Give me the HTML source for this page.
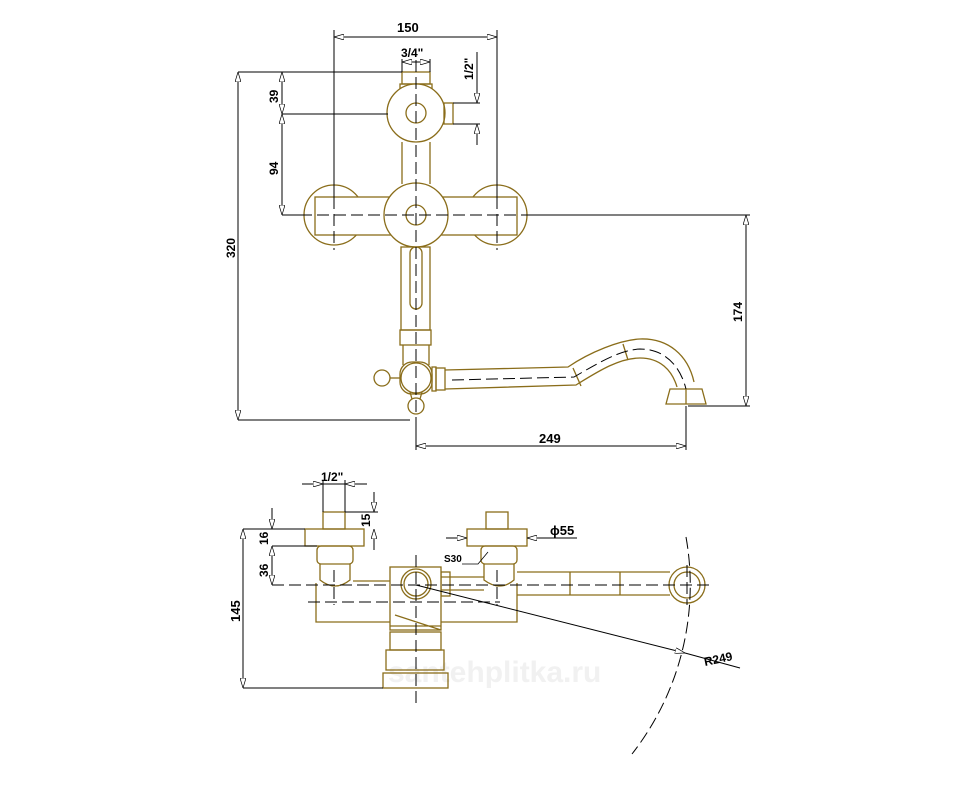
<!DOCTYPE html>
<html><head><meta charset="utf-8"><style>
html,body{margin:0;padding:0;background:#fff}
svg{display:block}
text{font-family:"Liberation Sans",sans-serif;font-weight:bold;fill:#000}
</style></head><body>
<svg width="960" height="800" viewBox="0 0 960 800" xmlns="http://www.w3.org/2000/svg">
<defs>
<marker id="a" viewBox="0 0 10 6" refX="10" refY="3" markerWidth="10" markerHeight="6" orient="auto-start-reverse" markerUnits="userSpaceOnUse"><path d="M0,0 L10,3 L0,6 Z" fill="#fff" stroke="#000" stroke-width="0.7"/></marker>
</defs>
<text x="388" y="682" font-size="30" font-weight="normal" style="fill:#f1f1f1">santehplitka.ru</text>
<g fill="none" stroke="#8a6d1a" stroke-width="1.3">
<!-- TOP VIEW -->
<rect x="402" y="72" width="28" height="12"/>
<rect x="400" y="84" width="32" height="8"/>
<circle cx="416" cy="113" r="29" fill="#fff"/>
<circle cx="416" cy="113" r="10"/>
<rect x="444" y="103" width="9" height="21"/>
<line x1="402" y1="142" x2="402" y2="184"/><line x1="430" y1="142" x2="430" y2="184"/>
<circle cx="334" cy="215" r="30"/>
<circle cx="497" cy="215" r="30"/>
<rect x="315" y="197" width="202" height="38" fill="#fff"/>
<circle cx="416" cy="215" r="32" fill="#fff"/>
<circle cx="416" cy="215" r="10"/>
<rect x="401" y="247" width="29" height="83"/>
<rect x="410" y="247" width="12" height="62" rx="6"/>
<rect x="400" y="330" width="31" height="15"/>
<path d="M403,345 L403,365 M429,345 L429,365"/>
<circle cx="416" cy="378" r="15"/>
<rect x="400" y="362" width="32" height="32" rx="12"/>
<circle cx="382" cy="378" r="8"/>
<line x1="390" y1="378" x2="400" y2="378"/>
<path d="M410,392 L412,399 M422,392 L420,399"/>
<circle cx="416" cy="406" r="8"/>
<rect x="432" y="367" width="4" height="24"/><rect x="436" y="368" width="9" height="22"/>
<path d="M445,370 L568,367 C590,352 620,340 640,339 C668,338 688,355 694,382"/>
<path d="M445,389 L576,385 C600,370 620,358 640,358 C660,358 672,370 677,387"/>
<path d="M573,368 L581,386 M623,344 L628,360"/>
<path d="M670,389 L702,389 L706,404 L666,404 Z"/><line x1="686" y1="389" x2="686" y2="404"/>
<!-- BOTTOM VIEW -->
<rect x="323" y="512" width="22" height="17"/>
<rect x="305" y="529" width="59" height="17"/>
<rect x="317" y="546" width="36" height="18" rx="4"/>
<path d="M320,564 L320,580 Q335,592 350,580 L350,564"/>
<rect x="486" y="512" width="22" height="17"/>
<rect x="467" y="529" width="60" height="17"/>
<rect x="481" y="546" width="36" height="18" rx="4"/>
<path d="M484,564 L484,580 Q500,592 514,580 L514,564"/>
<path d="M316,583 L316,622 L517,622 L517,583"/>
<path d="M353,581 L390,581 M441,577 L484,577 M441,590 L484,590"/>
<rect x="441" y="572" width="9" height="24"/>
<rect x="390" y="567" width="51" height="63" fill="#fff"/>
<circle cx="416" cy="584" r="15"/><circle cx="416" cy="584" r="12"/>
<path d="M390,626 L441,626 M395,615 L441,630"/>
<rect x="390" y="632" width="51" height="18"/>
<rect x="386" y="650" width="58" height="20"/>
<rect x="383" y="673" width="65" height="15"/>
<path d="M517,572 L670,572 M517,595 L670,595 M570,572 L570,595 M620,572 L620,595"/>
<circle cx="687" cy="585" r="18"/><circle cx="687" cy="585" r="13"/>
</g>
<g fill="none" stroke="#000" stroke-width="1">
<g stroke-dasharray="12 5">
<line x1="416" y1="60" x2="416" y2="440"/>
<line x1="300" y1="215" x2="545" y2="215"/>
<line x1="334" y1="180" x2="334" y2="250"/><line x1="497" y1="180" x2="497" y2="250"/>
<path d="M452,380 L574,377 C600,362 620,350 640,349 C664,349 680,365 686,389"/>
<line x1="416" y1="555" x2="416" y2="705"/>
<line x1="272" y1="585" x2="710" y2="585"/>
<line x1="308" y1="602" x2="500" y2="602"/>
<line x1="334" y1="570" x2="334" y2="605"/><line x1="497" y1="570" x2="497" y2="605"/>
<line x1="687" y1="565" x2="687" y2="605"/>
<path d="M686,537 A274,274 0 0 1 632,754"/>
</g>
<line x1="334" y1="37" x2="497" y2="37" marker-start="url(#a)" marker-end="url(#a)"/>
<line x1="334" y1="30" x2="334" y2="200"/><line x1="497" y1="30" x2="497" y2="200"/>
<line x1="402" y1="59" x2="402" y2="72"/><line x1="430" y1="59" x2="430" y2="72"/>
<line x1="402" y1="62" x2="416" y2="62" marker-start="url(#a)"/><line x1="416" y1="62" x2="430" y2="62" marker-end="url(#a)"/>
<line x1="238" y1="72" x2="402" y2="72"/>
<line x1="238" y1="72" x2="238" y2="420" marker-start="url(#a)" marker-end="url(#a)"/>
<line x1="238" y1="420" x2="410" y2="420"/>
<line x1="282" y1="72" x2="282" y2="114" marker-start="url(#a)" marker-end="url(#a)"/>
<line x1="282" y1="114" x2="282" y2="215" marker-start="url(#a)" marker-end="url(#a)"/>
<line x1="282" y1="114" x2="388" y2="114"/>
<line x1="282" y1="215" x2="305" y2="215"/>
<line x1="453" y1="103" x2="480" y2="103"/><line x1="453" y1="124" x2="480" y2="124"/>
<line x1="477" y1="52" x2="477" y2="103" marker-end="url(#a)"/><line x1="477" y1="124" x2="477" y2="145" marker-start="url(#a)"/>
<line x1="530" y1="215" x2="750" y2="215"/>
<line x1="746" y1="215" x2="746" y2="406" marker-start="url(#a)" marker-end="url(#a)"/>
<line x1="688" y1="406" x2="750" y2="406"/>
<line x1="416" y1="420" x2="416" y2="450"/><line x1="686" y1="406" x2="686" y2="450"/>
<line x1="416" y1="446" x2="686" y2="446" marker-start="url(#a)" marker-end="url(#a)"/>
<line x1="302" y1="484" x2="323" y2="484" marker-end="url(#a)"/><line x1="345" y1="484" x2="367" y2="484" marker-start="url(#a)"/>
<line x1="323" y1="484" x2="345" y2="484"/>
<line x1="323" y1="480" x2="323" y2="512"/><line x1="345" y1="480" x2="345" y2="512"/>
<line x1="345" y1="512" x2="378" y2="512"/>
<line x1="374" y1="492" x2="374" y2="512" marker-end="url(#a)"/><line x1="374" y1="529" x2="374" y2="550" marker-start="url(#a)"/>
<line x1="243" y1="529" x2="305" y2="529"/>
<line x1="243" y1="529" x2="243" y2="688" marker-start="url(#a)" marker-end="url(#a)"/>
<line x1="243" y1="688" x2="383" y2="688"/>
<line x1="272" y1="508" x2="272" y2="529" marker-end="url(#a)"/>
<line x1="272" y1="546" x2="272" y2="585" marker-start="url(#a)" marker-end="url(#a)"/>
<line x1="272" y1="546" x2="317" y2="546"/>
<line x1="446" y1="538" x2="467" y2="538" marker-end="url(#a)"/><line x1="527" y1="538" x2="577" y2="538" marker-start="url(#a)"/>
<line x1="416" y1="585" x2="685" y2="653" marker-end="url(#a)"/><line x1="685" y1="653" x2="740" y2="668"/>
<path d="M462,564 L478,564 L488,552" stroke-width="0.8"/>
</g>
<text x="397" y="32" font-size="13">150</text>
<text x="401" y="57" font-size="12">3/4"</text>
<text transform="translate(473,80) rotate(-90)" font-size="12">1/2"</text>
<text transform="translate(278,103) rotate(-90)" font-size="12">39</text>
<text transform="translate(278,175) rotate(-90)" font-size="12">94</text>
<text transform="translate(235,258) rotate(-90)" font-size="12">320</text>
<text transform="translate(742,322) rotate(-90)" font-size="12">174</text>
<text x="539" y="443" font-size="13">249</text>
<text x="321" y="481" font-size="12">1/2"</text>
<text transform="translate(370,527) rotate(-90)" font-size="12">15</text>
<text transform="translate(268,545) rotate(-90)" font-size="12">16</text>
<text transform="translate(268,577) rotate(-90)" font-size="12">36</text>
<text transform="translate(240,622) rotate(-90)" font-size="13">145</text>
<text x="550" y="535" font-size="13">ϕ55</text>
<text x="444" y="562" font-size="10" font-weight="normal">S30</text>
<text transform="translate(705,666) rotate(-12)" font-size="12">R249</text>
</svg>
</body></html>
